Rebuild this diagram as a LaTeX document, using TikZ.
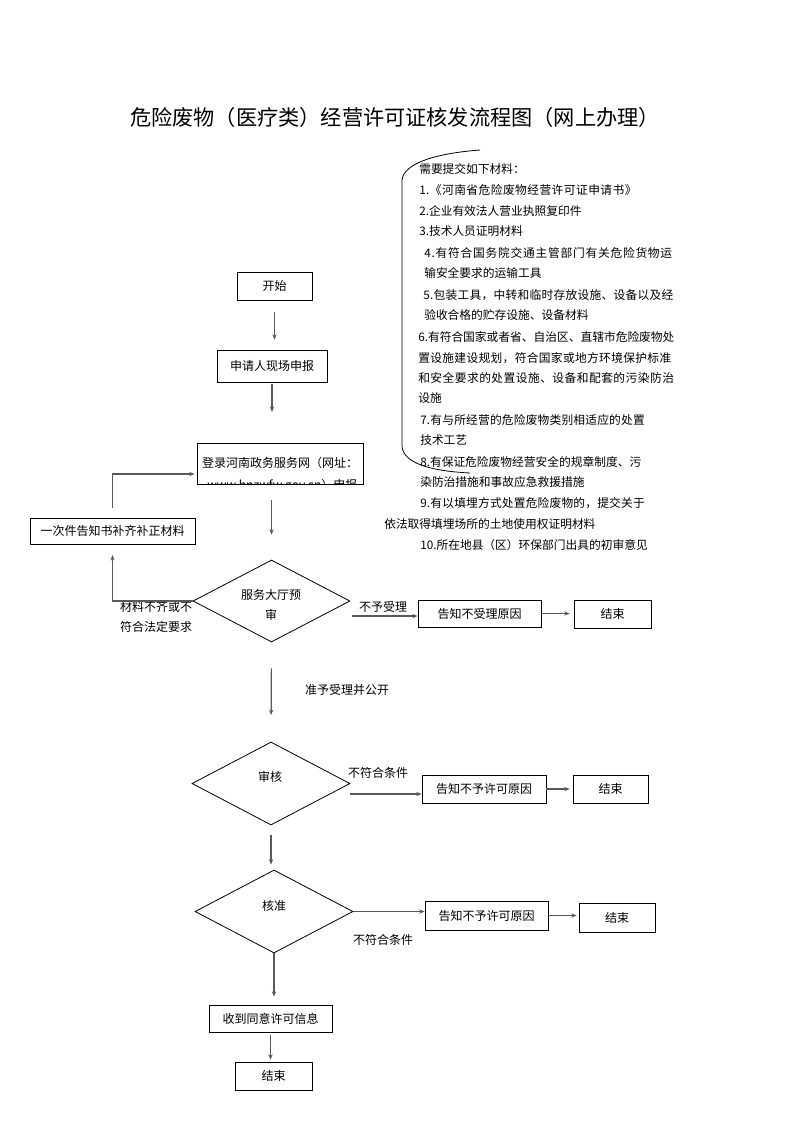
\documentclass[tikz,border=0pt]{standalone}
\usepackage{fontspec}
\setmainfont{Noto Sans CJK SC}
\usetikzlibrary{arrows.meta,shapes.geometric,calc}
\newcommand{\lsp}[2]{{\addfontfeature{LetterSpace=#1}#2}}
\begin{document}
\begin{tikzpicture}[x=0.75pt,y=-0.75pt,
  txt/.style={inner sep=0pt, font=\fontsize{9}{11}\selectfont},
  lst/.style={inner sep=0pt, anchor=west, font=\fontsize{8.8}{10}\selectfont},
  box/.style={draw, line width=0.6pt, inner sep=0pt, font=\fontsize{9}{11}\selectfont},
  dia/.style={draw, diamond, line width=0.6pt, inner sep=0pt, aspect=1.9},
  arr/.style={draw=black!65, line width=0.9pt, -{Stealth[length=4pt,width=3.2pt]}}]
\useasboundingbox[fill=white] (0,0) rectangle (793,1122);

\node[inner sep=0pt, font=\fontsize{15.9}{18}\selectfont] (title) at (395,117) {危险废物（医疗类）经营许可证核发流程图（网上办理）};

% materials list
\draw[line width=0.6pt] (480,150) .. controls (440,153) and (404,162) .. (402,180)
  -- (402,446) .. controls (403,463) and (430,471) .. (470,473);
\node[lst] (m0) at (419,169) {需要提交如下材料：};
\node[lst] (m1) at (419,190) {\lsp{3.8}{1.《河南省危险废物经营许可证申请书》}};
\node[lst] (m2) at (419,211) {2.企业有效法人营业执照复印件};
\node[lst] (m3) at (419,231) {3.技术人员证明材料};
\node[lst] (m4) at (424,253) {\lsp{6.5}{4.有符合国务院交通主管部门有关危险货物运}};
\node[lst] (m5) at (424,273) {输安全要求的运输工具};
\node[lst] (m6) at (423,295) {\lsp{2.3}{5.包装工具，中转和临时存放设施、设备以及经}};
\node[lst] (m7) at (424,315) {验收合格的贮存设施、设备材料};
\node[lst] (m8) at (418,337) {6.有符合国家或者省、自治区、直辖市危险废物处};
\node[lst] (m9) at (418,358) {\lsp{2.8}{置设施建设规划，符合国家或地方环境保护标准}};
\node[lst] (m10) at (418,378) {\lsp{4}{和安全要求的处置设施、设备和配套的污染防治}};
\node[lst] (m11) at (418,398) {设施};
\node[lst] (m12) at (420,420) {\lsp{1.6}{7.有与所经营的危险废物类别相适应的处置}};
\node[lst] (m13) at (420,440) {技术工艺};
\node[lst] (m14) at (420,462) {8.有保证危险废物经营安全的规章制度、污};
\node[lst] (m15) at (420,482) {染防治措施和事故应急救援措施};
\node[lst] (m16) at (420,503) {\lsp{1.6}{9.有以填埋方式处置危险废物的，提交关于}};
\node[lst] (m17) at (384,524) {依法取得填埋场所的土地使用权证明材料};
\node[lst] (m18) at (420,545) {10.所在地县（区）环保部门出具的初审意见};

% boxes
\node[box, minimum width=56.25pt, minimum height=21pt] (start) at (274.5,286) {开始};
\node[box, minimum width=82.5pt, minimum height=24pt] (apply) at (272,366) {申请人现场申报};
\node[box, minimum width=124.5pt, minimum height=30.75pt] (login) at (280,463.5) {\raisebox{1pt}{登录河南政务服务网（网址：}};
\begin{scope}
  \clip (login.south west) rectangle (login.north east);
  \node[txt, anchor=west] (login2) at (207,486) {www.hnzwfw.gov.cn）申报};
\end{scope}
\node[box, minimum width=123.75pt, minimum height=19.5pt] (supp) at (112.5,531) {一次件告知书补齐补正材料};

\node[dia, minimum width=117.75pt, minimum height=61.5pt] (d1) at (271.5,601) {};
\node[txt, align=center, font=\fontsize{9}{15}\selectfont] (t1) at (271,605) {服务大厅预\\审};
\node[box, minimum width=92.25pt, minimum height=20.25pt] (rej1) at (479.5,613.5) {告知不受理原因};
\node[box, minimum width=57.75pt, minimum height=21pt] (end1) at (612.5,614) {结束};

\node[dia, minimum width=118.5pt, minimum height=62.25pt] (d2) at (271,783.5) {};
\node[txt] (t2) at (270,777) {审核};
\node[box, minimum width=93pt, minimum height=21pt] (rej2) at (484,789) {告知不予许可原因};
\node[box, minimum width=56.25pt, minimum height=21pt] (end2) at (610.5,789) {结束};

\node[dia, minimum width=118.5pt, minimum height=62.25pt] (d3) at (274,911.5) {};
\node[txt] (t3) at (274,906) {核准};
\node[box, minimum width=92.25pt, minimum height=21.75pt] (rej3) at (486.5,915.5) {告知不予许可原因};
\node[box, minimum width=57pt, minimum height=21.75pt] (end3) at (617,917.5) {结束};

\node[box, minimum width=92.25pt, minimum height=20.25pt] (recv) at (270.5,1018.5) {收到同意许可信息};
\node[box, minimum width=57.75pt, minimum height=21pt] (end4) at (273.5,1076) {结束};

% labels
\node[txt, align=center, font=\fontsize{9}{15}\selectfont] (l1) at (156,617) {材料不齐或不\\符合法定要求};
\node[txt] (l2) at (383,607) {不予受理};
\node[txt] (l3) at (347,690) {准予受理并公开};
\node[txt] (l4) at (378,773) {不符合条件};
\node[txt] (l5) at (383,940) {不符合条件};

% connectors
\draw[arr, shorten <=9pt, shorten >=7.5pt] (start.south) -- (start.south |- apply.north);
\draw[arr, shorten <=1.5pt, shorten >=23pt] (apply.south) -- (apply.south |- login.north);
\draw[arr, shorten <=12pt, shorten >=18.75pt] (d1.north |- login.south) -- (d1.north);
\draw[arr, shorten <=7.5pt, shorten >=1.5pt] (supp.north) |- ([yshift=-7.9pt]login.west);
\draw[arr, shorten >=8pt] (d1.west) -| (supp.south);
\coordinate (a1) at ([xshift=1.5pt,yshift=-11.25pt]d1.east);
\draw[arr] (a1) -- (a1 -| rej1.west);
\draw[arr, shorten >=3pt] (rej1.east) -- (rej1.east -| end1.west);
\draw[arr, shorten <=19.5pt, shorten >=20pt] (d1.south) -- (d2.north);
\coordinate (a2) at ([yshift=-7.9pt]d2.east);
\draw[arr] (a2) -- (a2 -| rej2.west);
\draw[arr, shorten >=2.25pt] (rej2.east) -- (rej2.east -| end2.west);
\draw[arr, shorten <=7.5pt, shorten >=3.75pt] (d2.south) -- (d2.south |- d3.north);
\draw[arr] (d3.east) -- (d3.east -| rej3.west);
\draw[arr, shorten >=1.5pt] (rej3.east) -- (rej3.east -| end3.west);
\draw[arr, shorten >=6pt] (d3.south) -- (d3.south |- recv.north);
\draw[arr, shorten <=2pt, shorten >=1.5pt] (recv.south) -- (recv.south |- end4.north);
\end{tikzpicture}
\end{document}
